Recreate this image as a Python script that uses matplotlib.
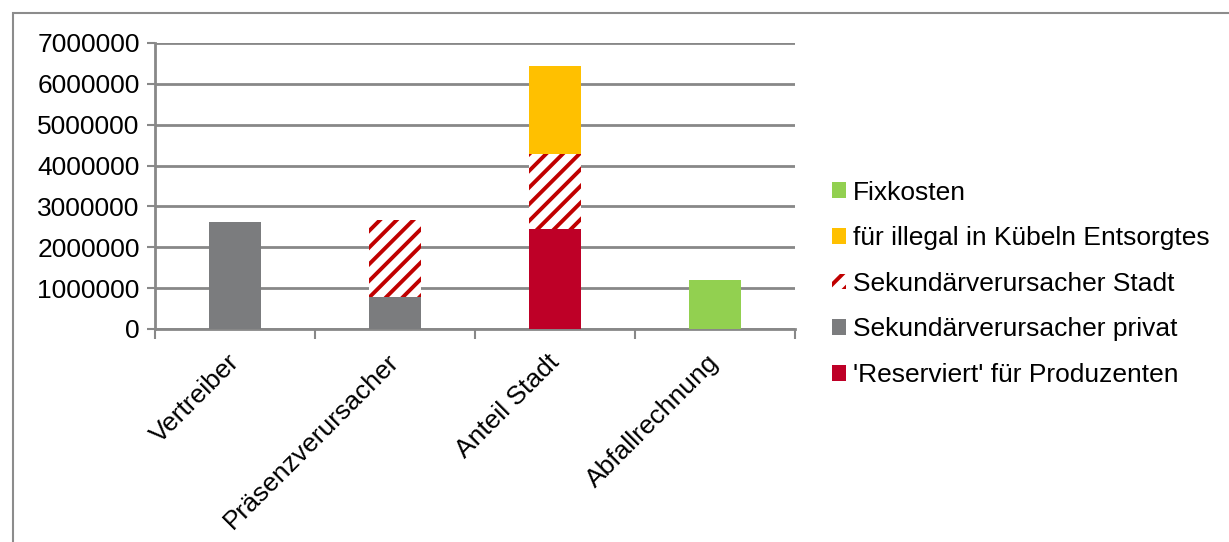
import matplotlib
matplotlib.use("Agg")
import matplotlib.pyplot as plt
from matplotlib.patches import Rectangle, Patch
import matplotlib.transforms as mtransforms
import numpy as np

categories = ["Vertreiber", "Präsenzverursacher", "Anteil Stadt", "Abfallrechnung"]
reserviert = [0, 0, 2440000, 0]
privat = [2620000, 790000, 0, 0]
stadt = [0, 1880000, 1840000, 0]
illegal = [0, 0, 2160000, 0]
fixkosten = [0, 0, 0, 1200000]
yticks = [0, 1000000, 2000000, 3000000, 4000000, 5000000, 6000000, 7000000]

plt.rcParams['font.family'] = ['Liberation Sans', 'DejaVu Sans']
plt.rcParams['hatch.linewidth'] = 2.8

RED = '#BE0027'
GREY = '#7B7C7E'
YELLOW = '#FFC000'
GREEN = '#92D050'
HATCHRED = '#C00000'
GRID = '#888888'

fig = plt.figure(figsize=(12.29, 5.42), dpi=100)
fig.patches.append(Rectangle((13/1229, -0.1), 1.2, 1 - 13/542 + 0.1, transform=fig.transFigure,
                             fill=False, edgecolor='#8C8C8C', linewidth=1.5))
ax = fig.add_axes([155/1229, 1 - 329/542, 640/1229, 286/542])

x = np.arange(len(categories))
w = 0.32
b = np.zeros(len(categories))
ax.bar(x, reserviert, w, bottom=b, color=RED, linewidth=0, zorder=3)
b += reserviert
ax.bar(x, privat, w, bottom=b, color=GREY, linewidth=0, zorder=3)
b += privat
ax.bar(x, stadt, w, bottom=b, color='white', edgecolor=HATCHRED, hatch='//', linewidth=0, zorder=3)
b += stadt
ax.bar(x, illegal, w, bottom=b, color=YELLOW, linewidth=0, zorder=3)
b += illegal
ax.bar(x, fixkosten, w, bottom=b, color=GREEN, linewidth=0, zorder=3)

ax.set_xlim(-0.5, len(categories) - 0.5)
ax.set_ylim(0, 7000000)
ax.set_yticks(yticks)
ax.set_yticklabels([str(v) for v in yticks], fontsize=19)
ax.yaxis.grid(True, color=GRID, linewidth=2, zorder=0)
ax.set_axisbelow(True)
for s in ['top', 'right']:
    ax.spines[s].set_visible(False)
for s in ['left', 'bottom']:
    ax.spines[s].set_color(GRID)
    ax.spines[s].set_linewidth(2)
ax.tick_params(axis='y', length=6, width=1.5, color=GRID, pad=5)
ax.set_xticks(x)
ax.set_xticklabels(categories, fontsize=19, rotation=45, ha='right', rotation_mode='anchor')
ax.tick_params(axis='x', which='major', length=0, pad=15)
offset = mtransforms.ScaledTranslation(-8/100, 0, fig.dpi_scale_trans)
for lbl in ax.get_xticklabels():
    lbl.set_transform(lbl.get_transform() + offset)
ax.set_xticks(np.arange(-0.5, len(categories)), minor=True)
ax.tick_params(axis='x', which='minor', length=7, width=1.5, color=GRID)

handles = [
    Patch(facecolor=GREEN, linewidth=0),
    Patch(facecolor=YELLOW, linewidth=0),
    Patch(facecolor='white', edgecolor=HATCHRED, hatch='//', linewidth=0),
    Patch(facecolor=GREY, linewidth=0),
    Patch(facecolor=RED, linewidth=0),
]
labels = ["Fixkosten", "für illegal in Kübeln Entsorgtes", "Sekundärverursacher Stadt",
          "Sekundärverursacher privat", "'Reserviert' für Produzenten"]
fig.legend(handles, labels, loc='upper left', bbox_to_anchor=(821/1229, 1 - 170/542),
           frameon=False, fontsize=19, handlelength=0.55, handleheight=0.55,
           handletextpad=0.25, labelspacing=0.82, borderaxespad=0)

fig.savefig("out.png", dpi=100)
